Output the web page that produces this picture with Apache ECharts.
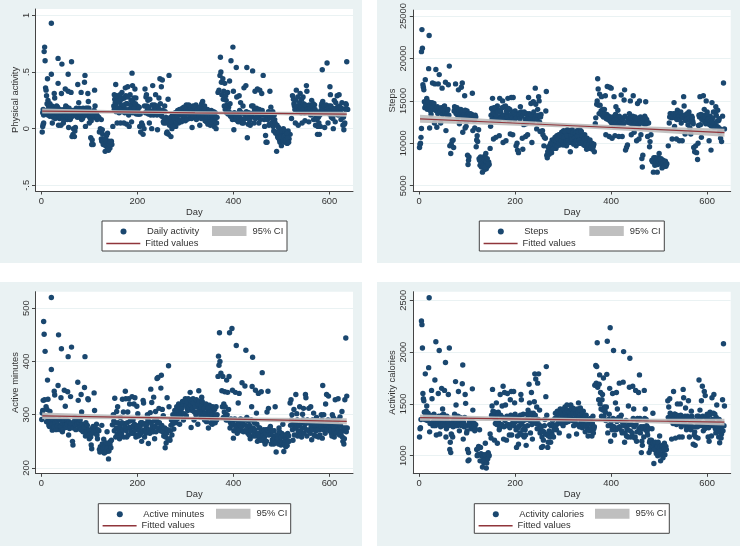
<!DOCTYPE html>
<html><head><meta charset="utf-8">
<script src="https://cdn.jsdelivr.net/npm/echarts@6/dist/echarts.min.js"></script>
<style>html,body{margin:0;padding:0;background:#fff}#c{width:740px;height:546px}</style>
</head><body><div id="c"></div>
<script>
const activityPoints=[[2,-.03],[3,.02],[4,.04],[5,.05],[3,.14],[4,.17],[5,.12],[6,.68],[7,.72],[8,.6],[9,.36],[10,.34],[11,.29],[12,.22],[13,.44],[14,.25],[15,.2],[16,.17],[17,.13],[18,.22],[19,.16],[20,.18],[21,.93],[21,.48],[22,.2],[23,.05],[24,.17],[25,.13],[26,.19],[27,.31],[28,.27],[29,.14],[30,.18],[31,.12],[32,.2],[33,.1],[35,.62],[35,.4],[36,.03],[37,.17],[38,.09],[39,.13],[41,.03],[42,.31],[43,.57],[44,.1],[45,.15],[46,.05],[47,.12],[48,.08],[50,.35],[51,.2],[52,.1],[53,.19],[54,.08],[56,.48],[56,.33],[57,.01],[58,.1],[59,.14],[60,.08],[62,.32],[63,.59],[64,-.07],[65,.11],[66,-.05],[67,0],[69,-.07],[70,-.02],[71,.01],[72,.17],[74,.14],[76,.39],[77,.12],[78,.23],[79,.18],[80,.1],[82,.15],[83,.32],[84,.08],[85,.12],[87,.18],[88,.14],[90,.41],[91,.47],[92,.02],[93,.18],[95,.14],[97,.31],[98,.24],[99,.18],[100,.05],[102,.09],[103,-.08],[105,-.14],[106,-.1],[108,-.14],[109,.13],[110,.1],[111,.34],[112,.2],[113,.1],[115,.13],[116,.08],[118,.09],[120,.1],[121,-.03],[123,0],[125,.08],[125,-.09],[127,-.01],[128,-.05],[130,-.1],[131,-.13],[133,-.2],[135,-.1],[136,-.06],[137,-.16],[138,-.04],[139,-.15],[140,-.19],[141,-.11],[143,-.17],[145,-.12],[146,-.11],[147,-.14],[149,.02],[151,.2],[152,.3],[153,.26],[155,.39],[156,.22],[158,.05],[159,.28],[161,.17],[163,.24],[165,.05],[166,.2],[168,.32],[170,.27],[172,.05],[173,.18],[175,.36],[177,.22],[178,.04],[180,.37],[182,.12],[183,.02],[185,.3],[187,.25],[188,.06],[189,.49],[190,.38],[192,.2],[195,.35],[197,.27],[199,.16],[200,.2],[203,.13],[205,.02],[207,-.03],[209,.05],[211,.03],[212,-.05],[214,0],[216,.35],[218,.28],[220,.2],[222,.25],[225,.05],[227,.15],[228,.12],[230,0],[232,.38],[234,.12],[235,.18],[238,.3],[240,.13],[242,-.01],[245,.27],[247,.44],[249,.12],[250,.37],[252,.43],[254,.06],[255,.05],[257,.2],[258,.15],[260,.1],[261,-.04],[262,-.03],[264,.26],[265,-.05],[266,.47],[268,.07],[270,-.07],[272,0],[274,.1],[276,.04],[278,.13],[280,.02],[282,.08],[284,.16],[286,.05],[288,.17],[290,.12],[292,.06],[294,.18],[296,.1],[298,.15],[300,.07],[302,.21],[304,.14],[306,.2],[308,.09],[310,.17],[312,.13],[314,.01],[316,.2],[318,.15],[320,.11],[322,.21],[324,.17],[326,.1],[328,.19],[330,.03],[332,.15],[334,.22],[336,.24],[338,.13],[340,.2],[342,.1],[344,.06],[346,.17],[348,.08],[350,.14],[352,.03],[354,.16],[356,.05],[358,.11],[360,.02],[362,.14],[364,0],[366,.1],[368,.32],[370,.34],[372,.47],[373,.63],[374,.5],[375,.41],[378,.44],[380,.33],[382,.4],[385,.25],[388,.32],[389,.13],[390,.19],[392,.42],[395,.6],[397,.1],[399,.72],[400,.33],[401,-.01],[403,.12],[406,.54],[407,.28],[409,.07],[412,.29],[414,.1],[415,.23],[418,.05],[420,.2],[422,.36],[424,.09],[426,.38],[428,.54],[429,-.08],[431,.04],[433,.13],[435,.03],[437,.1],[440,.51],[441,.2],[443,.05],[445,.33],[447,.14],[450,.35],[452,.1],[455,.34],[457,.15],[459,.31],[461,.12],[462,.47],[464,.08],[467,-.06],[468,-.12],[470,-.12],[472,.13],[474,.03],[476,.33],[478,.19],[480,.05],[482,.15],[484,-.02],[486,.08],[488,-.04],[490,-.2],[492,-.07],[494,.01],[496,-.1],[498,-.05],[500,-.15],[502,-.08],[504,0],[506,-.03],[508,-.12],[510,-.06],[512,-.13],[514,-.02],[516,-.09],[518,-.05],[521,.09],[523,.29],[525,.26],[527,.2],[529,.05],[531,.34],[533,.16],[535,.03],[537,.2],[539,.31],[541,.14],[543,.05],[545,.28],[547,.18],[549,.07],[552,.38],[553,.33],[555,.2],[557,.06],[559,.2],[561,.12],[563,.25],[565,.18],[567,.08],[569,.21],[571,.03],[573,.15],[575,-.05],[577,.1],[579,-.05],[581,.02],[583,.2],[585,.52],[586,.24],[588,.14],[590,.01],[592,.2],[595,.58],[597,.05],[599,.2],[601,.37],[602,.3],[604,.1],[606,.18],[608,0],[610,.25],[612,.06],[614,.18],[616,.29],[618,.12],[620,.3],[622,.16],[624,.08],[626,.23],[628,.03],[630,-.01],[632,.05],[634,.22],[636,.59],[638,.17]];
const activityDense=[[12,.16],[14,.12],[16,.2],[18,.11],[20,.14],[23,.18],[25,.1],[27,.15],[29,.09],[31,.17],[33,.14],[34,.19],[37,.1],[39,.17],[40,.1],[43,.14],[45,.09],[47,.17],[49,.13],[51,.11],[52,.19],[54,.15],[55,.1],[58,.18],[60,.12],[61,.09],[65,.16],[68,.12],[71,.14],[73,.18],[75,.1],[77,.17],[79,.13],[81,.16],[83,.12],[85,.17],[86,.09],[88,.11],[89,.17],[92,.12],[94,.16],[96,.18],[99,.11],[101,.15],[104,.07],[107,.12],[110,.16],[113,.14],[117,.11],[126,-.11],[129,-.14],[132,-.09],[134,-.15],[136,-.12],[138,-.18],[140,-.13],[142,-.14],[144,-.12],[152,.17],[154,.23],[156,.15],[157,.29],[159,.18],[160,.24],[162,.14],[164,.3],[165,.17],[167,.26],[169,.15],[171,.21],[173,.27],[174,.14],[176,.29],[177,.16],[179,.22],[181,.28],[182,.17],[184,.14],[186,.21],[187,.17],[190,.24],[191,.14],[193,.27],[194,.18],[196,.22],[198,.13],[201,.17],[202,.13],[204,.19],[206,.13],[215,.2],[217,.14],[219,.3],[221,.17],[223,.13],[224,.19],[226,.26],[229,.15],[231,.21],[233,.13],[236,.21],[237,.14],[239,.17],[241,.12],[243,.2],[244,.13],[246,.17],[248,.22],[251,.11],[253,.16],[256,.09],[259,.05],[263,.07],[267,.03],[269,.1],[271,.06],[273,.12],[275,.02],[277,.09],[279,.14],[281,.05],[283,.11],[285,.08],[287,.14],[289,.07],[291,.17],[293,.13],[295,.08],[297,.19],[299,.11],[301,.17],[303,.08],[305,.15],[307,.21],[309,.12],[311,.18],[313,.09],[315,.16],[317,.11],[319,.19],[321,.14],[323,.08],[325,.17],[327,.14],[329,.11],[331,.19],[333,.09],[335,.17],[337,.12],[339,.16],[341,.07],[343,.14],[345,.1],[347,.04],[349,.15],[351,.1],[353,.06],[355,.12],[357,.08],[359,.15],[361,.07],[363,.1],[365,.05],[376,.3],[379,.26],[381,.2],[383,.17],[384,.29],[386,.14],[387,.21],[391,.15],[393,.22],[394,.11],[396,.13],[398,.08],[402,.14],[404,.08],[405,.11],[408,.13],[410,.06],[411,.1],[413,.16],[416,.08],[417,.14],[419,.08],[421,.05],[423,.13],[425,.09],[427,.15],[430,.1],[432,.14],[434,.07],[436,.13],[438,.2],[439,.11],[442,.14],[444,.17],[446,.09],[448,.18],[449,.11],[451,.15],[453,.05],[454,.17],[456,.08],[458,.12],[460,.16],[463,.13],[465,.02],[469,.11],[471,.08],[473,.15],[475,.04],[477,.1],[479,.14],[481,.09],[483,.02],[485,.12],[487,.05],[489,-.03],[491,.03],[493,-.08],[495,-.03],[497,-.12],[499,-.07],[501,-.02],[503,-.11],[505,-.07],[507,-.02],[509,-.1],[511,-.04],[513,-.08],[515,-.12],[526,.22],[528,.17],[530,.25],[532,.2],[534,.28],[536,.16],[538,.23],[540,.19],[542,.26],[544,.17],[546,.22],[548,.14],[550,.21],[554,.17],[556,.15],[558,.21],[560,.18],[562,.14],[564,.2],[566,.22],[568,.13],[570,.17],[572,.1],[574,.08],[576,.02],[578,.05],[580,.12],[582,.16],[584,.22],[587,.17],[589,.2],[591,.14],[593,.21],[596,.16],[598,.18],[600,.13],[603,.2],[605,.15],[607,.09],[609,.17],[611,.13],[613,.23],[615,.14],[617,.19],[619,.14],[621,.2],[623,.14],[625,.18],[627,.12],[629,.1],[631,.04],[633,.17],[635,.21]];
const stepsPoints=[[1,9500],[2,9900],[3,10000],[4,10700],[5,11750],[5,20800],[6,23400],[7,21200],[8,16900],[9,16600],[10,16300],[11,14900],[13,17500],[14,14500],[16,15300],[18,14200],[20,18800],[21,22700],[22,11800],[23,14800],[25,13400],[26,14600],[27,14100],[28,17100],[30,14500],[32,12400],[33,17000],[35,18700],[36,13900],[37,11900],[40,17000],[42,18100],[43,13800],[45,12400],[47,14000],[48,16500],[50,13500],[52,14300],[55,17200],[56,11500],[57,13400],[59,13900],[61,16900],[63,19100],[64,9700],[66,8800],[67,9900],[69,10300],[71,10400],[72,9500],[74,14300],[76,17000],[78,13800],[80,13500],[82,16300],[84,12300],[86,13900],[88,16600],[90,17100],[91,11300],[92,13500],[95,15600],[96,11800],[98,12000],[100,13800],[101,8600],[102,7500],[103,8000],[104,8400],[105,13200],[108,13300],[111,15900],[112,11500],[114,13200],[116,11800],[118,13100],[119,9600],[120,10400],[121,10900],[122,10200],[124,11600],[125,8200],[127,7400],[128,8400],[130,7200],[132,6600],[133,8000],[135,7600],[136,6900],[137,8500],[138,7800],[139,8800],[140,7000],[141,7600],[143,7300],[145,7800],[146,7500],[148,9400],[149,12000],[151,14100],[153,15300],[154,13700],[155,10500],[157,13000],[159,14200],[160,10700],[162,13900],[163,14400],[165,13000],[167,10900],[168,15300],[170,13700],[172,13300],[174,15000],[175,10100],[177,14300],[178,13000],[180,14400],[181,10300],[183,13500],[185,15300],[187,13200],[189,14000],[190,11100],[192,15400],[193,13700],[195,11000],[196,15400],[198,13000],[200,13800],[202,9700],[204,10000],[205,9200],[207,8900],[209,13600],[211,14300],[213,13700],[215,10600],[216,9300],[218,12200],[220,13500],[222,10800],[224,13400],[226,11000],[228,15400],[229,13000],[231,12700],[233,14700],[235,10100],[236,13400],[238,14900],[240,13000],[242,16500],[243,14600],[245,11700],[247,14000],[249,15500],[250,15000],[252,11400],[254,13400],[257,11500],[260,9700],[263,10600],[264,13800],[265,16100],[266,8600],[267,8300],[269,9500],[271,8700],[273,9800],[275,9300],[277,10400],[279,9700],[281,10000],[283,10700],[285,9400],[287,10900],[289,10200],[291,11000],[293,9800],[295,10600],[297,11300],[299,10100],[301,11500],[303,10400],[305,11000],[307,9700],[309,11600],[311,10700],[313,11200],[315,9000],[317,10300],[319,11600],[321,10900],[323,10300],[325,11000],[327,9700],[329,11500],[331,10500],[333,10000],[335,11600],[337,10800],[339,10100],[341,10600],[343,9800],[345,11000],[347,10300],[349,9300],[351,10400],[353,9700],[355,10200],[357,9400],[359,9900],[361,9300],[363,9700],[365,9000],[367,12300],[368,13000],[370,14600],[371,15000],[372,17600],[373,16400],[374,14500],[376,15800],[378,13500],[380,15500],[382,13900],[385,13300],[388,15600],[389,11000],[392,16700],[393,13000],[396,10800],[397,16600],[400,16500],[402,10600],[404,12500],[406,15500],[408,10900],[410,14300],[412,12600],[414,13900],[416,10800],[418,12700],[421,15700],[423,10800],[425,13000],[427,15100],[428,16300],[430,9200],[432,9500],[434,9800],[436,12500],[438,13500],[440,15000],[442,11000],[444,12700],[446,15600],[448,11300],[450,13100],[453,10300],[455,14700],[456,12600],[458,10500],[459,15000],[461,13100],[462,11000],[464,8200],[465,7200],[466,8600],[468,12500],[470,13200],[472,14900],[474,12800],[476,10800],[478,12400],[480,9600],[481,10200],[483,11000],[486,7900],[488,6600],[490,8000],[492,8300],[494,7500],[496,6600],[498,8300],[500,8800],[502,7700],[504,8200],[506,7100],[508,8000],[510,7500],[512,7800],[514,7300],[516,7600],[519,9700],[521,12400],[523,13500],[525,13200],[527,10500],[529,13400],[531,14800],[532,12000],[534,13500],[536,10500],[538,13900],[540,12900],[542,10300],[544,13300],[546,12400],[548,10300],[551,15500],[552,14400],[554,11100],[556,13000],[558,13500],[560,12200],[562,13700],[564,11800],[566,11100],[568,13200],[570,12600],[572,9500],[574,9000],[576,9700],[578,8900],[580,8100],[581,10000],[583,13300],[585,15500],[586,12200],[588,10700],[590,13200],[592,15600],[594,14000],[596,12500],[598,15000],[600,13700],[602,12400],[604,10300],[606,13200],[608,9200],[610,14800],[612,13000],[614,11900],[616,13700],[618,14300],[620,12000],[622,13900],[624,12700],[626,11300],[628,10600],[630,10200],[632,13200],[634,17100],[636,11700]];
const stepsDense=[[12,14200],[15,14700],[17,14000],[19,14900],[22,14300],[24,13800],[27,14800],[29,14200],[31,14700],[34,13900],[38,14300],[39,13500],[41,14100],[44,13700],[46,14200],[49,13400],[51,13900],[53,14400],[54,13600],[58,13500],[60,14000],[62,13300],[73,13800],[75,14100],[77,13500],[79,14200],[81,13100],[83,13900],[85,13300],[87,14000],[89,13200],[91,13700],[93,12900],[94,13400],[96,13900],[97,13000],[99,12600],[100,13400],[103,13500],[104,13100],[106,12800],[107,13500],[109,12900],[110,13400],[113,13100],[115,12700],[117,13300],[126,8000],[129,7700],[131,8100],[134,7300],[136,8100],[138,7200],[140,7900],[142,8200],[144,7600],[150,13300],[152,12800],[155,13500],[156,14200],[158,12800],[161,13300],[164,13700],[166,12700],[169,13900],[171,13000],[173,14200],[176,13300],[179,12900],[182,13800],[184,13100],[186,14100],[188,12700],[191,13300],[194,13000],[197,13600],[199,12800],[201,13300],[203,13000],[208,13300],[210,12900],[212,13500],[214,13200],[217,13500],[219,13700],[221,12800],[223,12300],[225,13500],[227,12900],[230,13500],[232,12800],[234,13300],[237,12600],[239,13700],[241,12900],[244,13200],[246,12800],[248,13300],[251,12500],[253,13100],[255,11400],[258,11000],[261,10700],[268,9000],[270,9600],[272,9200],[274,10000],[276,8900],[278,9900],[280,9400],[282,10400],[284,9800],[286,10300],[288,9700],[290,10500],[292,10000],[294,11000],[296,10300],[298,10800],[300,9800],[302,10700],[304,11400],[306,10200],[308,10900],[310,10300],[312,11500],[314,10100],[316,10900],[318,10500],[320,11300],[322,9900],[324,10700],[326,11200],[328,10300],[330,10900],[332,11300],[334,10400],[336,10000],[338,11400],[340,10900],[342,10200],[344,10500],[346,9700],[348,10000],[350,10600],[352,9500],[354,9900],[356,10400],[358,9600],[360,10000],[362,9500],[364,9900],[375,13500],[377,14500],[379,13800],[381,13300],[383,14000],[384,13100],[386,14000],[387,13500],[390,12900],[391,13400],[394,12800],[395,13200],[398,12600],[399,13000],[401,12400],[403,13100],[405,12200],[407,12800],[409,13400],[411,12400],[413,12900],[415,12200],[417,13200],[419,12500],[420,13000],[422,12300],[424,12800],[426,12300],[429,13200],[433,12500],[435,12800],[437,13000],[439,12400],[441,13000],[443,12300],[445,13200],[447,12500],[449,12300],[451,13000],[452,12500],[454,12900],[457,12200],[460,12600],[463,12400],[467,12900],[469,12300],[471,13000],[473,12300],[475,12500],[485,8000],[487,7800],[489,8300],[491,7400],[493,7900],[495,8200],[497,7500],[499,7900],[501,8100],[503,7600],[505,7900],[507,7400],[509,7700],[511,7300],[513,7900],[515,7500],[522,13100],[524,13500],[526,13000],[528,13200],[530,13500],[533,13000],[535,13300],[537,12800],[539,13500],[541,13200],[543,12800],[545,13700],[547,13200],[549,13000],[553,13300],[555,12700],[557,13300],[559,12900],[561,13400],[563,13000],[565,12700],[567,12500],[569,13000],[571,12300],[582,12100],[584,13100],[587,13400],[589,12800],[591,13300],[593,12700],[595,13100],[597,12300],[599,13400],[601,12800],[603,12900],[605,12200],[607,12600],[609,12000],[611,12500],[613,13700],[615,12400],[617,11900],[619,13300],[621,12600],[623,11900],[625,12900],[627,11700],[629,11500]];
const minutesPoints=[[1,291],[2,303],[3,308],[4,327],[5,475],[6,451],[7,328],[8,419],[9,297],[10,315],[12,310],[13,365],[14,329],[15,285],[16,280],[18,306],[20,291],[21,520],[21,385],[23,271],[25,283],[27,344],[28,337],[30,290],[32,279],[35,355],[36,450],[37,280],[39,272],[41,332],[42,424],[44,268],[46,275],[48,346],[50,316],[52,285],[55,343],[56,409],[57,262],[59,274],[61,334],[63,427],[65,250],[66,243],[68,280],[70,295],[73,285],[76,361],[77,327],[79,275],[83,338],[84,305],[86,270],[88,280],[90,351],[91,409],[92,260],[94,275],[97,330],[98,328],[100,255],[102,270],[104,243],[105,236],[107,275],[110,341],[111,308],[113,265],[115,282],[117,255],[120,270],[122,230],[124,238],[126,280],[128,235],[130,254],[131,228],[133,245],[135,240],[137,268],[139,232],[140,217],[142,240],[144,250],[146,252],[148,281],[150,300],[153,331],[155,258],[157,306],[159,315],[161,275],[163,255],[165,295],[167,265],[169,329],[171,305],[173,283],[175,344],[176,330],[178,258],[180,305],[182,330],[184,320],[186,275],[188,265],[189,334],[191,290],[193,320],[195,332],[197,258],[199,316],[201,302],[203,280],[205,262],[207,285],[209,250],[212,327],[213,322],[215,258],[217,283],[219,275],[221,300],[223,246],[225,287],[227,304],[228,348],[230,323],[232,270],[234,333],[236,255],[238,306],[240,290],[241,368],[243,370],[245,312],[247,275],[249,350],[250,374],[252,310],[254,298],[256,270],[258,238],[260,247],[262,332],[264,253],[265,392],[266,315],[268,252],[270,280],[272,262],[274,300],[276,273],[278,308],[280,285],[282,315],[284,298],[286,320],[288,282],[290,310],[292,300],[294,325],[296,290],[298,318],[300,330],[302,298],[304,312],[306,330],[308,320],[310,342],[312,276],[314,308],[316,330],[318,290],[320,325],[322,300],[324,315],[326,282],[328,345],[330,310],[332,295],[334,333],[336,305],[338,320],[340,290],[342,316],[344,287],[346,305],[348,275],[350,318],[352,295],[354,310],[356,282],[358,305],[360,295],[362,285],[364,315],[366,300],[368,372],[369,410],[370,393],[371,454],[372,400],[374,378],[376,345],[378,372],[380,320],[382,343],[384,300],[386,365],[388,342],[390,310],[391,372],[392,454],[394,285],[397,462],[398,346],[400,256],[402,280],[404,342],[406,430],[408,265],[410,322],[412,340],[414,290],[416,270],[418,360],[420,285],[423,270],[424,354],[426,421],[428,295],[430,265],[432,275],[435,255],[438,315],[439,353],[440,408],[442,260],[444,285],[446,346],[448,303],[450,250],[452,340],[454,275],[456,265],[458,343],[460,379],[462,262],[464,250],[466,245],[468,272],[470,305],[472,344],[473,312],[475,268],[477,278],[479,245],[481,253],[483,260],[485,270],[487,315],[489,230],[491,250],[493,262],[495,275],[497,255],[499,243],[501,265],[503,282],[505,231],[507,258],[509,240],[511,252],[513,265],[516,250],[518,322],[520,328],[522,300],[524,252],[526,310],[528,275],[530,338],[532,302],[534,260],[536,280],[538,315],[540,270],[542,258],[544,301],[546,312],[548,275],[550,338],[551,332],[553,260],[555,285],[557,312],[559,272],[561,315],[563,253],[565,290],[567,303],[569,275],[571,260],[573,295],[575,280],[577,258],[579,272],[581,285],[583,300],[585,256],[586,355],[588,300],[590,275],[592,320],[594,338],[596,285],[598,335],[600,270],[602,280],[604,265],[606,300],[608,295],[610,258],[612,328],[614,285],[616,270],[618,330],[620,280],[622,296],[624,262],[626,306],[628,250],[630,245],[632,328],[634,444],[636,335],[637,275]];
const minutesDense=[[11,287],[14,295],[17,278],[19,288],[22,281],[24,292],[26,276],[29,286],[31,272],[33,288],[34,279],[38,291],[40,278],[43,285],[45,273],[47,290],[49,280],[51,276],[53,290],[54,282],[58,287],[60,278],[62,284],[67,275],[69,288],[71,280],[72,272],[74,292],[75,282],[78,285],[80,276],[81,290],[82,272],[85,282],[87,268],[89,277],[93,285],[95,268],[96,280],[99,272],[101,263],[103,258],[106,265],[108,278],[109,268],[112,275],[114,270],[116,262],[118,272],[121,235],[123,240],[125,232],[127,245],[129,237],[132,240],[134,230],[136,247],[138,238],[141,232],[143,244],[145,238],[151,288],[152,270],[154,285],[156,275],[158,263],[160,285],[162,270],[164,278],[166,262],[168,285],[170,272],[172,258],[174,278],[177,270],[179,285],[181,262],[183,276],[185,288],[187,268],[190,278],[192,265],[194,282],[196,272],[198,262],[200,276],[202,260],[204,270],[206,278],[208,265],[210,285],[211,270],[214,282],[216,272],[218,265],[220,282],[222,290],[224,272],[226,265],[229,285],[231,278],[233,268],[235,288],[237,278],[239,268],[242,285],[244,275],[246,285],[248,270],[251,280],[253,268],[255,260],[257,275],[259,258],[261,265],[263,272],[267,255],[269,270],[271,290],[273,282],[275,295],[277,286],[279,300],[281,305],[283,292],[285,308],[287,300],[289,315],[291,305],[293,312],[295,320],[297,302],[299,325],[301,318],[303,325],[305,308],[307,315],[309,328],[311,318],[313,325],[315,312],[317,322],[319,305],[321,315],[323,328],[325,305],[327,320],[329,325],[331,302],[333,315],[335,325],[337,295],[339,312],[341,302],[343,320],[345,295],[347,312],[349,300],[351,305],[353,285],[355,300],[357,315],[359,290],[361,310],[363,298],[365,290],[377,315],[379,295],[381,305],[383,315],[385,290],[387,300],[389,290],[393,275],[395,292],[396,280],[399,285],[401,270],[403,292],[405,280],[407,275],[409,288],[411,272],[413,282],[415,292],[417,278],[419,285],[421,268],[422,290],[425,280],[427,270],[429,278],[431,288],[433,262],[434,280],[436,270],[437,290],[441,275],[443,265],[445,272],[447,260],[449,282],[451,265],[453,258],[455,275],[457,252],[459,270],[461,260],[463,272],[465,258],[467,265],[469,250],[471,272],[474,262],[476,275],[478,265],[480,270],[482,250],[484,245],[486,255],[488,248],[490,262],[492,255],[494,245],[496,268],[498,250],[500,258],[502,248],[504,262],[506,245],[508,252],[510,262],[512,242],[514,250],[515,260],[519,280],[521,290],[523,272],[525,282],[527,262],[529,285],[531,275],[533,290],[535,268],[537,280],[539,262],[541,285],[543,275],[545,290],[547,265],[549,282],[552,272],[554,290],[556,270],[558,285],[560,265],[562,278],[564,272],[566,285],[568,262],[570,280],[572,270],[574,290],[576,272],[578,280],[580,262],[582,278],[584,290],[587,272],[589,282],[591,265],[593,280],[595,272],[597,290],[599,275],[601,285],[603,272],[605,260],[607,280],[609,272],[611,285],[613,265],[615,278],[617,290],[619,272],[621,262],[623,280],[625,268],[627,258],[629,275],[631,255],[633,275],[635,268]];
const caloriesPoints=[[1,1180],[2,1260],[3,1270],[4,1350],[5,2300],[6,2265],[7,2040],[8,1600],[9,1550],[10,1530],[11,1420],[13,1790],[15,1430],[16,1480],[18,1400],[20,1850],[21,2525],[22,1230],[24,1380],[26,1630],[27,1550],[29,1290],[31,1400],[33,1730],[35,2100],[36,1200],[38,1340],[40,1600],[42,2015],[43,1210],[45,1280],[47,1650],[49,1450],[51,1400],[53,1630],[55,1900],[56,1180],[57,1260],[59,1330],[61,1590],[63,2040],[64,1060],[65,1130],[66,1030],[68,1200],[70,1180],[72,1300],[74,1400],[76,1715],[77,1490],[79,1300],[82,1620],[84,1240],[86,1370],[88,1300],[90,1695],[91,1875],[92,1160],[94,1280],[96,1590],[97,1505],[99,1220],[101,1060],[102,950],[103,1030],[104,960],[106,1330],[108,1270],[111,1645],[112,1440],[114,1290],[116,1240],[118,1300],[120,1060],[122,1010],[124,1090],[126,1250],[128,1080],[130,1000],[132,890],[133,1010],[135,930],[137,980],[138,1120],[139,960],[140,880],[142,1000],[144,1030],[146,1000],[148,1210],[150,1170],[152,1480],[153,1640],[155,1400],[157,1150],[159,1310],[161,1510],[163,1120],[165,1420],[167,1250],[169,1590],[171,1300],[173,1480],[175,1670],[176,1160],[178,1610],[180,1490],[182,1150],[184,1600],[186,1300],[188,1200],[190,1540],[192,1620],[193,1200],[195,1380],[197,1620],[199,1510],[201,1330],[203,1080],[205,1190],[207,1110],[209,1290],[212,1590],[213,1540],[215,1200],[217,1400],[219,1180],[221,1250],[223,1100],[225,1400],[227,1440],[229,1690],[230,1510],[232,1220],[234,1610],[236,1160],[238,1410],[240,1520],[241,1790],[243,1740],[245,1470],[247,1700],[249,1790],[251,1440],[253,1250],[255,1080],[258,1090],[260,1230],[262,1350],[264,1570],[265,1860],[266,1390],[268,1080],[270,1190],[272,1300],[274,1130],[276,1220],[278,1340],[280,1180],[282,1290],[284,1410],[286,1250],[288,1430],[290,1320],[292,1220],[294,1450],[296,1360],[298,1440],[300,1290],[302,1410],[304,1470],[306,1320],[308,1490],[310,1380],[312,1190],[314,1440],[316,1490],[318,1350],[320,1460],[322,1290],[324,1410],[326,1370],[328,1210],[330,1450],[332,1510],[334,1280],[336,1460],[338,1380],[340,1270],[342,1430],[344,1340],[346,1230],[348,1390],[350,1280],[352,1190],[354,1350],[356,1240],[358,1300],[360,1190],[362,1380],[364,1260],[366,1680],[368,1870],[369,1700],[370,1860],[371,2090],[372,1660],[374,1540],[376,1780],[378,1610],[380,1380],[382,1590],[384,1750],[386,1470],[388,1420],[391,1785],[392,2105],[393,1220],[395,1350],[397,1650],[398,2235],[399,1140],[401,1290],[403,1600],[405,2015],[407,1200],[409,1510],[411,1610],[413,1450],[415,1270],[417,1700],[419,1370],[421,1390],[423,1220],[425,1710],[426,2005],[428,1130],[430,1290],[432,1190],[434,1250],[436,1480],[438,1660],[439,1940],[441,1180],[443,1300],[445,1670],[447,1450],[449,1170],[451,1630],[453,1140],[455,1360],[457,1610],[459,1780],[461,1220],[463,1030],[465,1100],[467,1280],[469,1630],[471,1450],[473,1350],[475,1230],[477,1270],[479,1030],[481,1150],[483,1090],[485,1260],[487,1410],[489,925],[491,1120],[493,1050],[495,1100],[497,1000],[499,1090],[501,1190],[503,950],[505,1080],[507,1020],[509,1060],[511,1120],[514,1090],[518,1530],[520,1470],[522,1550],[524,1360],[526,1160],[528,1380],[530,1620],[532,1400],[534,1170],[536,1300],[538,1500],[540,1380],[542,1180],[544,1500],[546,1280],[548,1180],[550,1640],[551,1560],[553,1360],[555,1460],[557,1250],[559,1380],[561,1530],[563,1180],[565,1290],[567,1430],[569,1350],[571,1110],[573,1200],[575,1100],[577,1280],[579,1380],[581,1170],[583,1730],[585,1440],[586,1300],[588,1530],[590,1670],[592,1240],[594,1620],[596,1580],[598,1300],[600,1400],[602,1180],[604,1140],[606,1420],[608,1320],[610,1560],[612,1290],[614,1590],[616,1400],[618,1220],[620,1490],[622,1300],[624,1180],[626,1125],[628,1250],[630,1210],[632,1540],[634,2080],[636,1480]];
const caloriesDense=[[12,1350],[14,1390],[17,1340],[19,1410],[23,1310],[25,1380],[28,1320],[30,1390],[32,1340],[34,1290],[37,1360],[39,1310],[41,1380],[44,1330],[46,1300],[48,1390],[50,1310],[52,1350],[54,1290],[58,1380],[60,1320],[62,1290],[67,1210],[69,1320],[71,1280],[73,1350],[75,1290],[78,1340],[80,1290],[81,1380],[83,1310],[85,1300],[87,1350],[89,1290],[93,1320],[95,1370],[98,1290],[100,1240],[105,1320],[107,1290],[109,1260],[110,1340],[113,1270],[115,1310],[117,1260],[121,1000],[123,1070],[125,1010],[127,950],[129,1020],[131,950],[134,990],[136,960],[138,1010],[141,930],[143,970],[145,1010],[151,1390],[154,1430],[156,1370],[158,1420],[160,1360],[162,1300],[164,1400],[166,1320],[168,1270],[170,1390],[172,1300],[174,1370],[177,1280],[179,1340],[181,1290],[183,1380],[185,1300],[187,1360],[189,1270],[191,1390],[194,1310],[196,1350],[198,1290],[200,1400],[202,1250],[204,1370],[206,1270],[208,1340],[210,1220],[211,1390],[214,1310],[216,1250],[218,1340],[220,1280],[222,1200],[224,1350],[226,1290],[228,1390],[231,1340],[233,1410],[235,1300],[237,1380],[239,1320],[242,1390],[244,1310],[246,1260],[248,1350],[250,1300],[252,1220],[254,1280],[256,1180],[257,1240],[259,1150],[261,1290],[263,1210],[267,1200],[269,1130],[271,1240],[273,1180],[275,1290],[277,1200],[279,1300],[281,1250],[283,1360],[285,1290],[287,1370],[289,1310],[291,1400],[293,1340],[295,1420],[297,1310],[299,1390],[301,1450],[303,1350],[305,1420],[307,1370],[309,1440],[311,1330],[313,1420],[315,1380],[317,1450],[319,1340],[321,1410],[323,1450],[325,1330],[327,1400],[329,1300],[331,1420],[333,1370],[335,1440],[337,1320],[339,1400],[341,1340],[343,1300],[345,1380],[347,1290],[349,1350],[351,1250],[353,1310],[355,1250],[357,1360],[359,1260],[361,1310],[363,1220],[365,1280],[375,1690],[377,1500],[379,1450],[381,1540],[383,1440],[385,1380],[387,1450],[389,1340],[390,1470],[394,1290],[396,1400],[400,1330],[402,1250],[404,1360],[406,1280],[408,1350],[410,1250],[412,1330],[414,1260],[416,1370],[418,1280],[420,1340],[422,1240],[424,1320],[427,1290],[429,1220],[431,1340],[433,1260],[435,1180],[437,1300],[440,1240],[442,1300],[444,1220],[446,1360],[448,1280],[450,1180],[452,1300],[454,1230],[456,1340],[458,1260],[460,1360],[462,1280],[464,1140],[466,1260],[468,1180],[470,1360],[472,1250],[474,1290],[476,1200],[478,1260],[480,1130],[482,1060],[484,1150],[486,1090],[488,1120],[490,1060],[492,1130],[494,1020],[496,1090],[498,1130],[500,1040],[502,1090],[504,1010],[506,1100],[508,980],[510,1060],[512,1010],[515,1060],[519,1370],[521,1350],[523,1410],[525,1340],[527,1390],[529,1310],[531,1360],[533,1400],[535,1340],[537,1390],[539,1310],[541,1370],[543,1330],[545,1390],[547,1300],[549,1360],[552,1310],[554,1380],[556,1290],[558,1360],[560,1270],[562,1370],[564,1300],[566,1250],[568,1380],[570,1280],[572,1340],[574,1230],[576,1180],[578,1330],[580,1280],[582,1380],[584,1320],[587,1370],[589,1290],[591,1380],[593,1310],[595,1260],[597,1370],[599,1290],[601,1350],[603,1270],[605,1390],[607,1310],[609,1190],[611,1350],[613,1410],[615,1310],[617,1260],[619,1370],[621,1290],[623,1230],[625,1350],[627,1260],[629,1170],[631,1280],[633,1240],[635,1290]];

const fitDays=[2,160,320,480,636];
const activityFit=[.155,.148,.14,.135,.128], activityLo=[.133,.133,.127,.12,.106], activityHi=[.177,.163,.153,.15,.15];
const stepsFit=[12890,12480,12070,11660,11250], stepsLo=[12420,12160,11820,11340,10780], stepsHi=[13360,12800,12320,11980,11720];
const minutesFit=[298,295.5,293,290.5,287.5], minutesLo=[292,291.5,290,286.5,281.5], minutesHi=[304,299.5,296,294.5,293.5];
const caloriesFit=[1368,1357,1346,1335,1324], caloriesLo=[1338,1336,1329,1314,1292], caloriesHi=[1398,1378,1363,1356,1356];

const xTicks=[0,200,400,600];
const activityTicks=[-.5,0,.5,1], activityLabels=['-.5','0','.5','1'];
const stepsTicks=[5000,10000,15000,20000,25000];
const minutesTicks=[200,300,400,500];
const caloriesTicks=[1000,1500,2000,2500];

const COLORS={panel:'#EAF2F3',dot:'#1A476F',ci:'#BFBFBF',fit:'#90353B',ink:'#333333'};
const FONT='"Liberation Sans",Arial,sans-serif', FS=9.4;

const panels=[
 {name:'Daily activity',yTitle:'Physical activity',pts:activityPoints.concat(activityDense),fit:activityFit,lo:activityLo,hi:activityHi,ticks:activityTicks,labels:activityLabels,min:-.55,max:1.056,bg:[0,0,362,263],grid:[35.5,9,317.5,182],box:[102,221,185,30],ciOff:[110,150]},
 {name:'Steps',yTitle:'Steps',pts:stepsPoints.concat(stepsDense),fit:stepsFit,lo:stepsLo,hi:stepsHi,ticks:stepsTicks,labels:stepsTicks.map(String),min:4379,max:25703,bg:[377,0,363,263],grid:[413.3,9,317.4,182],box:[479.3,221,185,30],ciOff:[110,150]},
 {name:'Active minutes',yTitle:'Active minutes',pts:minutesPoints.concat(minutesDense),fit:minutesFit,lo:minutesLo,hi:minutesHi,ticks:minutesTicks,labels:minutesTicks.map(String),min:190,max:531,bg:[0,282,362,264],grid:[35.5,291.7,317.5,181.6],box:[98.3,503.7,192.4,29.6],ciOff:[117.7,157]},
 {name:'Activity calories',yTitle:'Activity calories',pts:caloriesPoints.concat(caloriesDense),fit:caloriesFit,lo:caloriesLo,hi:caloriesHi,ticks:caloriesTicks,labels:caloriesTicks.map(String),min:830,max:2583,bg:[377,282,363,264],grid:[413.3,291.7,317.4,181.6],box:[474.3,503.7,195,29.6],ciOff:[120.7,160]}
];

const grid=[],xAxis=[],yAxis=[],series=[],legend=[],graphic=[];
const tStyle={color:COLORS.ink,fontFamily:FONT,fontSize:FS};
panels.forEach((p,i)=>{
  graphic.push({type:'rect',z:-10,shape:{x:p.bg[0],y:p.bg[1],width:p.bg[2],height:p.bg[3]},style:{fill:COLORS.panel}});
  graphic.push({type:'rect',z:1,shape:{x:p.box[0],y:p.box[1],width:p.box[2],height:p.box[3]},style:{fill:'#fff',stroke:'#444',lineWidth:1}});
  grid.push({left:p.grid[0],top:p.grid[1],width:p.grid[2],height:p.grid[3],show:true,backgroundColor:'#fff',borderWidth:0});
  xAxis.push({type:'value',gridIndex:i,min:-12,max:649,name:'Day',nameLocation:'middle',nameGap:17,nameTextStyle:tStyle,
    axisLine:{onZero:false,lineStyle:{color:'#444',width:1}},axisTick:{length:3.5,customValues:xTicks,lineStyle:{color:'#444'}},
    axisLabel:{...tStyle,margin:6,customValues:xTicks,showMinLabel:true,showMaxLabel:true},splitLine:{show:false}});
  yAxis.push({type:'value',gridIndex:i,min:p.min,max:p.max,name:p.yTitle,nameLocation:'middle',nameGap:16,nameRotate:90,nameTextStyle:tStyle,
    axisLine:{onZero:false,lineStyle:{color:'#444',width:1}},axisTick:{length:3.5,customValues:p.ticks,lineStyle:{color:'#444'}},
    axisLabel:{...tStyle,rotate:90,margin:5,customValues:p.ticks,formatter:v=>{const k=p.ticks.indexOf(v);return k>=0?p.labels[k]:'';}},
    splitLine:{show:true,lineStyle:{color:COLORS.panel,width:1}}});
  series.push({type:'scatter',name:p.name,xAxisIndex:i,yAxisIndex:i,data:p.pts,symbol:'circle',symbolSize:5.4,z:2,itemStyle:{color:COLORS.dot,opacity:1},silent:true,animation:false});
  const band=fitDays.map((d,k)=>[d,p.lo[k],p.hi[k]]);
  series.push({type:'custom',name:'95% CI',xAxisIndex:i,yAxisIndex:i,z:3,silent:true,animation:false,itemStyle:{color:COLORS.ci},
    encode:{x:0,y:[1,2]},data:band,
    renderItem:(params,api)=>{
      if(params.dataIndex!==0) return null;
      const up=band.map(b=>api.coord([b[0],b[2]])), dn=band.map(b=>api.coord([b[0],b[1]])).reverse();
      return {type:'polygon',shape:{points:up.concat(dn)},style:{fill:COLORS.ci,opacity:.92}};
    }});
  series.push({type:'line',name:'Fitted values',xAxisIndex:i,yAxisIndex:i,z:4,silent:true,animation:false,showSymbol:false,symbol:'none',
    data:fitDays.map((d,k)=>[d,p.fit[k]]),lineStyle:{color:COLORS.fit,width:1.2},itemStyle:{color:COLORS.fit}});
  const rowH=p.box[3]>=30?13:12.6, r1=p.box[1]+9, r2=r1+rowH;
  const base={selectedMode:false,padding:0,z:5,textStyle:tStyle,orient:'horizontal'};
  legend.push({...base,left:p.box[0]+18.5,top:r1-3,itemWidth:6,itemHeight:6,icon:'circle',data:[p.name],
    textStyle:{...tStyle,lineHeight:6,padding:[0,0,0,15.5]}});
  legend.push({...base,left:p.box[0]+p.ciOff[0],top:r1-4,itemWidth:34.5,itemHeight:10,icon:'rect',data:['95% CI'],textStyle:{...tStyle,lineHeight:10,padding:[0,0,0,1]}});
  legend.push({...base,left:p.box[0]+4.3,top:r2-4,itemWidth:34,itemHeight:1.4,icon:'rect',data:['Fitted values'],textStyle:{...tStyle,lineHeight:2}});
});

const chart=echarts.init(document.getElementById('c'),null,{renderer:'canvas'});
chart.setOption({animation:false,backgroundColor:'#fff',tooltip:{show:false},grid,xAxis,yAxis,series,legend,graphic});
</script></body></html>
